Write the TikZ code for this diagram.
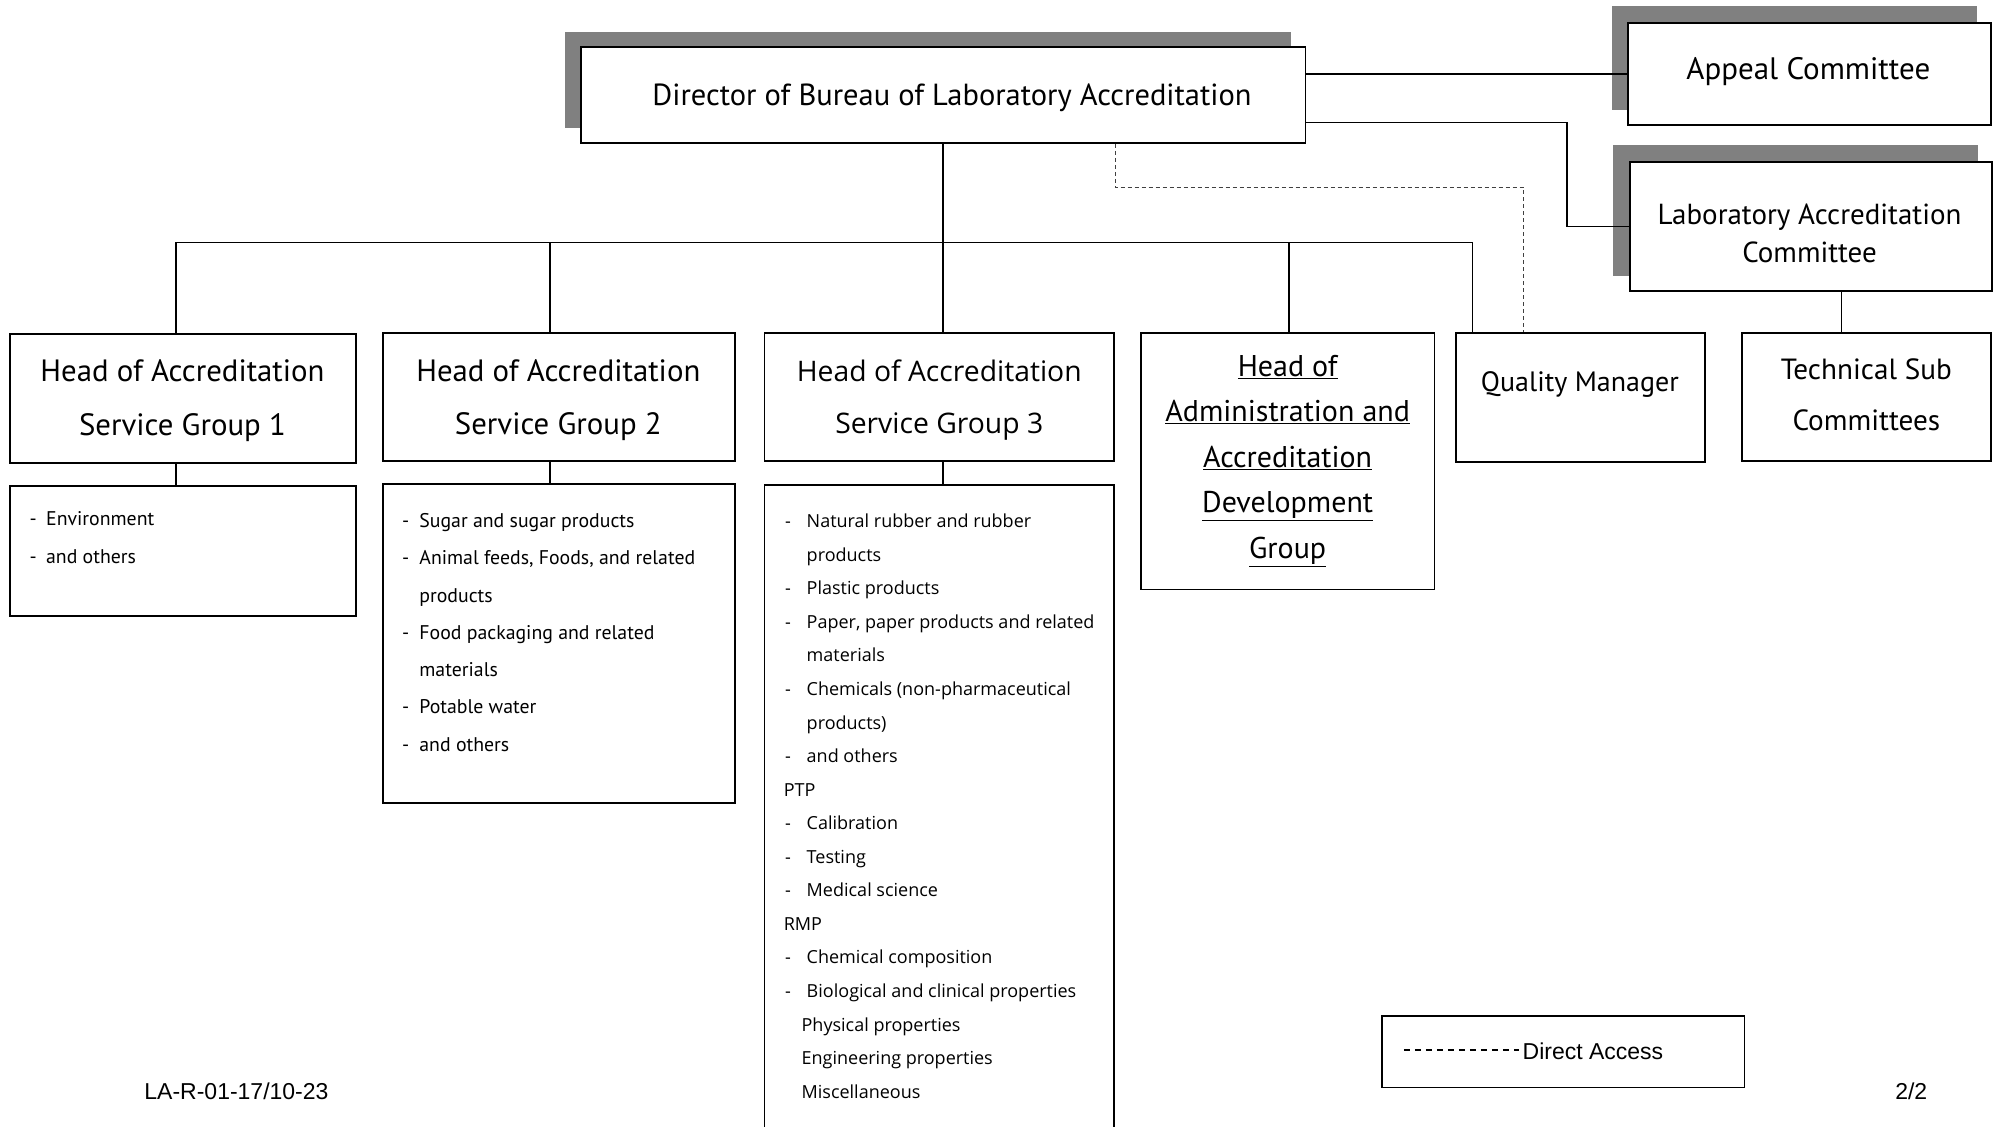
\documentclass[tikz,border=0pt]{standalone}
\usepackage{fontspec}
\setmainfont{PT Sans}
\newfontfamily\gthreefont{Open Sans}
\newfontfamily\arialfont{Liberation Sans}
\usetikzlibrary{fit}
\definecolor{shadowgray}{HTML}{808080}
\tikzset{
  box/.style={draw, line width=1.8pt, fill=white, inner sep=0pt},
  shadowbox/.style={fill=shadowgray, draw=none, inner sep=0pt},
  conn/.style={line width=1.5pt},
  head/.style={font=\fontsize{30.8}{53.6}\selectfont, align=center, inner sep=0pt, anchor=center},
  gthreehead/.style={font=\gthreefont\fontsize{28.3}{52.3}\selectfont, align=center, inner sep=0pt, anchor=center},
  listtxt/.style={font=\fontsize{19.8}{22}\selectfont, inner sep=0pt, anchor=mid west},
  gthreetxt/.style={font=\gthreefont\fontsize{18}{20}\selectfont, inner sep=0pt, anchor=mid west},
  foot/.style={font=\arialfont\fontsize{23}{26}\selectfont, inner sep=0pt, anchor=base west}
}
\begin{document}
\begin{tikzpicture}[x=1.2761pt,y=-1.2761pt]
\useasboundingbox (0,0) rectangle (1568,883);
% top boxes with shadows
\node[shadowbox, fit={(443,25)(1012,100)}] (dirsh) {};
\node[box, fit={(455,37)(1023,112)}] (dir) {};
\node[shadowbox, fit={(1263,5)(1549,86)}] (appsh) {};
\node[box, fit={(1276,18)(1560,98)}] (app) {};
\node[shadowbox, fit={(1264,114)(1550,216)}] (lacsh) {};
\node[box, fit={(1277,127)(1561,228)}] (lac) {};
% second row
\node[box, fit={(8,262)(279,363)}] (g1) {};
\node[box, fit={(8,381)(279,483)}] (g1l) {};
\node[box, fit={(300,261)(576,361)}] (g2) {};
\node[box, fit={(300,379)(576,629)}] (g2l) {};
\node[box, fit={(599,261)(873,361)}] (g3) {};
\node[box, fit={(599,380)(873,900)}] (g3l) {};
\node[box, fit={(894,261)(1124,462)}] (adm) {};
\node[box, fit={(1141,261)(1336,362)}] (qm) {};
\node[box, fit={(1365,261)(1560,361)}] (ts) {};
\node[box, line width=1.5pt, fit={(1083,796)(1367,852)}] (leg) {};
% connector junctions
\coordinate (bL) at (138,190);
\coordinate (b2) at (431,190);
\coordinate (b4) at (1010,190);
\coordinate (bR) at (1154,190);
\coordinate (lk) at (1228,96);
\coordinate (tsx) at (1443,240);
\coordinate (d1) at (874,147);
\coordinate (d2) at (1194,147);
% connectors
\draw[conn] (bL) -- (bR);
\draw[conn] (bL) -- (bL |- g1.north);
\draw[conn] (b2) -- (b2 |- g2.north);
\draw[conn] (dir.south) -- (dir.south |- g3.north);
\draw[conn] (b4) -- (b4 |- adm.north);
\draw[conn] (bR) -- (bR |- qm.north);
\draw[conn] (bL |- g1.south) -- (bL |- g1l.north);
\draw[conn] (b2 |- g2.south) -- (b2 |- g2l.north);
\draw[conn] (dir.south |- g3.south) -- (dir.south |- g3l.north);
\draw[conn] (app.west -| dir.east) -- (app.west);
\draw[conn] (lk -| dir.east) -- (lk) |- (lac.west);
\draw[conn] (tsx |- lac.south) -- (tsx |- ts.north);
\draw[line width=1.1pt, draw=black!75, dash pattern=on 4pt off 3pt] (d1 |- dir.south) -- (d1) -- (d2) -- (d2 |- qm.north);
% texts
\node[head, font=\fontsize{30.5}{34}\selectfont] (dirt) at (746,76.5) {Director of Bureau of Laboratory Accreditation};
\node[head, font=\fontsize{31}{34}\selectfont] (appt) at (1417,56) {Appeal Committee};
\node[head, font=\fontsize{29}{38.3}\selectfont] (lact) at (1418,183) {Laboratory Accreditation\\Committee};
\node[head] (g1t) at (143,314) {Head of Accreditation\\Service Group 1};
\node[head] (g2t) at (437.5,313.5) {Head of Accreditation\\Service Group 2};
\node[gthreehead] (g3t) at (736,313.5) {Head of Accreditation\\Service Group 3};
\node[head, font=\fontsize{30}{45.6}\selectfont] (admt) at (1009,361) {\underline{Head of}\\\underline{Administration and}\\\underline{Accreditation}\\\underline{Development}\\\underline{Group}};
\node[head, font=\fontsize{28}{32}\selectfont] (qmt) at (1238,301.5) {Quality Manager};
\node[head, font=\fontsize{29.2}{51}\selectfont] (tst) at (1462.5,309) {Technical Sub\\Committees};
% group 1 list
\foreach \t [count=\i from 0] in {Environment, and others}
  \node[listtxt] (g1i\i) at (36,{409.5+30*\i}) {\t};
\foreach \i in {0,1}
  \node[listtxt] (g1d\i) at (23,{409.5+30*\i}) {-};
% group 2 list
\foreach \xx/\t [count=\i from 0] in {328.5/Sugar and sugar products, 328.5/{Animal feeds, Foods, and related}, 328.5/products, 328.5/Food packaging and related, 328.5/materials, 328.5/Potable water, 328.5/and others}
  \node[listtxt] (g2i\i) at (\xx,{411.5+29.2*\i}) {\t};
\foreach \i in {0,1,3,5,6}
  \node[listtxt] (g2d\i) at (315,{411.5+29.2*\i}) {-};
% group 3 list
\foreach \xx/\t [count=\i from 0] in {632/Natural rubber and rubber, 632/products, 632/Plastic products, 632/{Paper, paper products and related}, 632/materials, 632/Chemicals (non-pharmaceutical, 632/products), 632/and others, 614/PTP, 632/Calibration, 632/Testing, 632/Medical science, 614/RMP, 632/Chemical composition, 632/Biological and clinical properties, 628/Physical properties, 628/Engineering properties, 628/Miscellaneous}
  \node[gthreetxt] (g3i\i) at (\xx,{411.5+26.3*\i}) {\t};
\foreach \i in {0,2,3,5,7,9,10,11,13,14}
  \node[gthreetxt] (g3d\i) at (615,{411.5+26.3*\i}) {-};
% legend
\coordinate (la) at (1100,823);
\coordinate (lb) at (1190,823);
\draw[line width=1.6pt, dash pattern=on 6.5pt off 4.5pt] (la) -- (lb);
\node[foot, anchor=mid west] (legt) at (1193,828) {Direct Access};
% footer
\node[foot] (code) at (113,861.5) {LA-R-01-17/10-23};
\node[foot] (page) at (1485,861.5) {2/2};
\end{tikzpicture}
\end{document}
